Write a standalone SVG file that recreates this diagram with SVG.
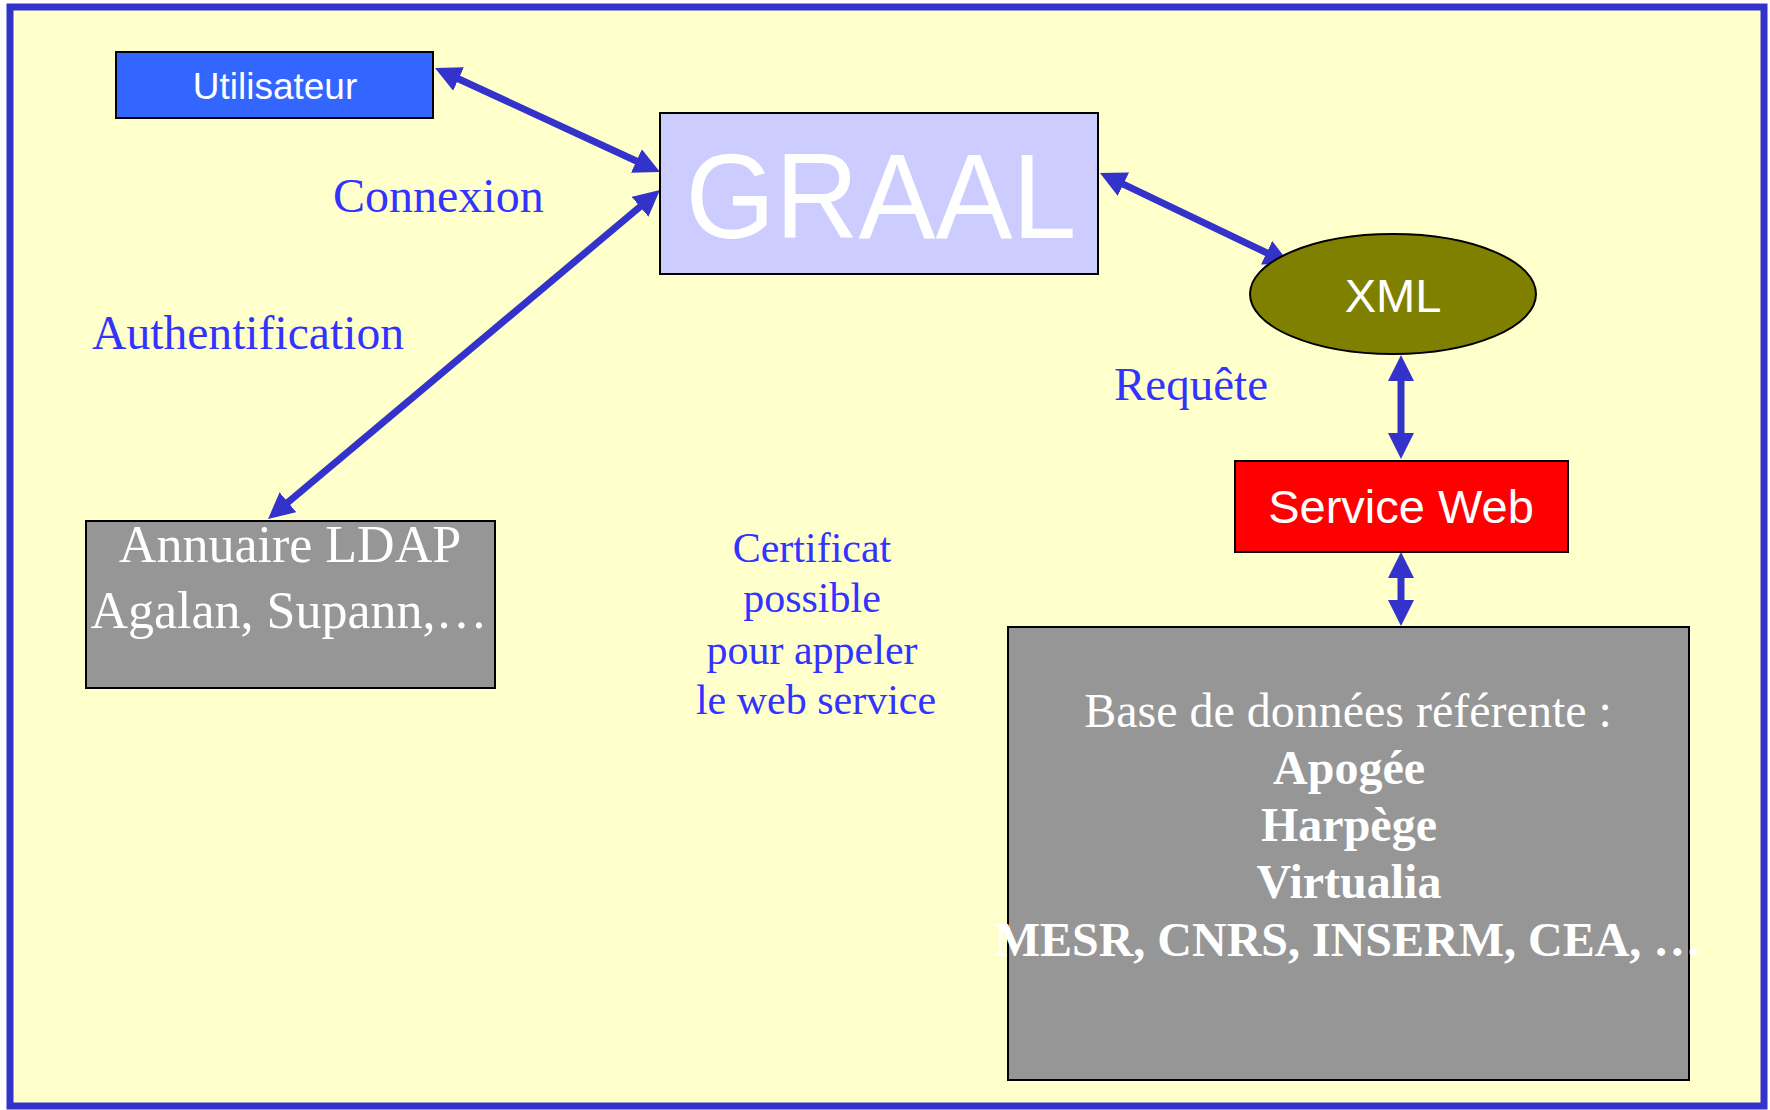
<svg xmlns="http://www.w3.org/2000/svg" width="1770" height="1110" viewBox="0 0 1770 1110">
<style>
.sans{font-family:"Liberation Sans",Arial,sans-serif;fill:#FFFFFF;text-anchor:middle}
.serifw{font-family:"Liberation Serif","Times New Roman",serif;fill:#FFFFFF;text-anchor:middle}
.lbl{font-family:"Liberation Serif","Times New Roman",serif;fill:#3333FF}
.box{stroke:#000000;stroke-width:2}
.conn{stroke:#3333CC;stroke-width:7;fill:none;marker-start:url(#ah);marker-end:url(#ah)}
</style>
<defs>
<marker id="ah" viewBox="0 0 26 26" refX="13" refY="13" markerWidth="26" markerHeight="26" markerUnits="userSpaceOnUse" orient="auto-start-reverse">
<path d="M0,0 L26,13 L0,26 z" fill="#3333CC"/>
</marker>
</defs>
<rect x="10" y="7" width="1754" height="1099" fill="#FFFFCC" stroke="#3333CC" stroke-width="7"/>
<g id="connectors">
<line class="conn" x1="446.8" y1="73.5" x2="648.2" y2="166.5"/>
<line class="conn" x1="650.0" y1="198.4" x2="278.0" y2="510.6"/>
<line class="conn" x1="1111.7" y1="178.6" x2="1278.3" y2="258.4"/>
<line class="conn" x1="1401" y1="368" x2="1401" y2="446"/>
<line class="conn" x1="1401" y1="565" x2="1401" y2="613"/>
</g>
<g id="utilisateur">
<rect class="box" x="116" y="52" width="317" height="66" fill="#3366FF"/>
<text class="sans" x="275" y="99" font-size="37">Utilisateur</text>
</g>
<g id="graal">
<rect class="box" x="660" y="113" width="438" height="161" fill="#CCCCFF"/>
<text class="sans" x="881" y="238" font-size="120" textLength="391" lengthAdjust="spacingAndGlyphs">GRAAL</text>
</g>
<g id="xml">
<ellipse class="box" cx="1393" cy="294" rx="143" ry="60" fill="#808000"/>
<text class="sans" x="1393" y="312" font-size="47">XML</text>
</g>
<g id="service-web">
<rect class="box" x="1235" y="461" width="333" height="91" fill="#FF0000"/>
<text class="sans" x="1401" y="523" font-size="47">Service Web</text>
</g>
<g id="ldap">
<rect class="box" x="86" y="521" width="409" height="167" fill="#969696"/>
<text class="serifw" x="290" y="562" font-size="52">Annuaire LDAP</text>
<text class="serifw" x="289" y="628" font-size="52">Agalan, Supann,…</text>
</g>
<g id="base-donnees">
<rect class="box" x="1008" y="627" width="681" height="453" fill="#969696"/>
<text class="serifw" x="1348" y="727" font-size="48">Base de données référente :</text>
<text class="serifw" x="1349" y="784" font-size="48" font-weight="bold">Apogée</text>
<text class="serifw" x="1349" y="841" font-size="48" font-weight="bold">Harpège</text>
<text class="serifw" x="1349" y="898" font-size="48" font-weight="bold">Virtualia</text>
<text class="serifw" x="1348" y="956" font-size="48" font-weight="bold">MESR, CNRS, INSERM, CEA, …</text>
</g>
<g id="labels">
<text class="lbl" x="333" y="212" font-size="48">Connexion</text>
<text class="lbl" x="92" y="349" font-size="48" textLength="312" lengthAdjust="spacingAndGlyphs">Authentification</text>
<text class="lbl" x="1114" y="400" font-size="47">Requête</text>
<text class="lbl" x="812" y="562" font-size="42" text-anchor="middle">Certificat</text>
<text class="lbl" x="812" y="612" font-size="42" text-anchor="middle">possible</text>
<text class="lbl" x="812" y="664" font-size="42" text-anchor="middle">pour appeler</text>
<text class="lbl" x="816" y="714" font-size="42" text-anchor="middle">le web service</text>
</g>
</svg>
